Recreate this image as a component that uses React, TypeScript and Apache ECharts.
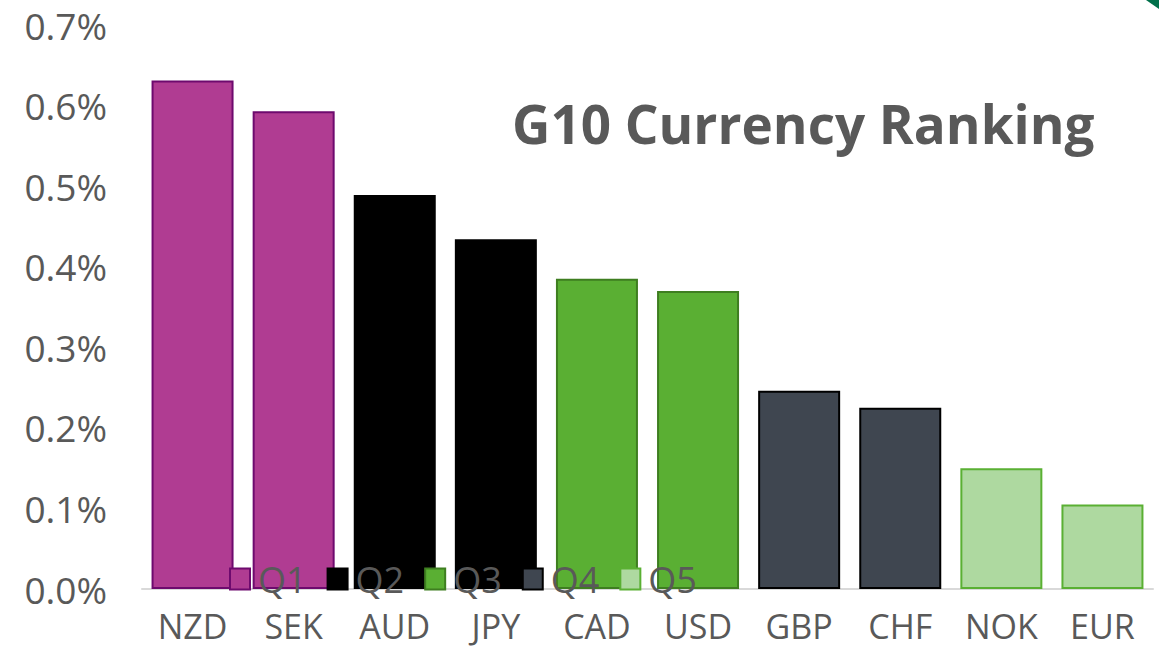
import React, { useEffect, useRef } from "react";
import * as echarts from "echarts";

const categories = ["NZD", "SEK", "AUD", "JPY", "CAD", "USD", "GBP", "CHF", "NOK", "EUR"];
const values = [0.631, 0.593, 0.489, 0.434, 0.385, 0.37, 0.246, 0.225, 0.15, 0.105];
const quintileOf = ["Q1", "Q1", "Q2", "Q2", "Q3", "Q3", "Q4", "Q4", "Q5", "Q5"];
const quintiles = ["Q1", "Q2", "Q3", "Q4", "Q5"];
const fills = ["#B03C92", "#000000", "#5AAF33", "#3F4650", "#AED9A0"];
const borders = ["#6E0A6E", "#000000", "#3E7E20", "#000000", "#5AB033"];
const yTicks = [0, 0.1, 0.2, 0.3, 0.4, 0.5, 0.6, 0.7];

const FONT = "'Open Sans', 'Noto Sans', sans-serif";
const GREY = "#595959";

export default function App() {
  const ref = useRef<HTMLDivElement>(null);
  useEffect(() => {
    if (!ref.current) return;
    const chart = echarts.init(ref.current, undefined, { renderer: "svg" });
    const series = quintiles.map((q, qi) => ({
      name: q,
      type: "bar",
      barWidth: 82,
      barGap: "-100%",
      data: values.map((v, i) => (quintileOf[i] === q ? v : null)),
      itemStyle: { color: fills[qi], borderColor: borders[qi], borderWidth: 2 },
    }));
    chart.setOption({
      animation: false,
      backgroundColor: "#ffffff",
      grid: { left: 142, right: 6, top: 25, bottom: 61, containLabel: false },
      title: {
        text: "G10 Currency Ranking",
        left: 507,
        top: 92,
        textStyle: { fontFamily: FONT, fontSize: 53, fontWeight: "bold", color: GREY },
      },
      legend: {
        data: quintiles,
        left: 224,
        top: 556,
        itemWidth: 20,
        itemHeight: 21,
        itemGap: 20,
        icon: "rect",
        textStyle: { fontFamily: FONT, fontSize: 36, color: GREY, padding: [0, 0, 0, 3] },
      },
      xAxis: {
        type: "category",
        data: categories,
        axisLine: { lineStyle: { color: "#D9D9D9", width: 2 } },
        axisTick: { show: false },
        axisLabel: { fontFamily: FONT, fontSize: 34, color: GREY, margin: 20, lineHeight: 34 },
      },
      yAxis: {
        type: "value",
        min: yTicks[0],
        max: yTicks[yTicks.length - 1],
        interval: 0.1,
        splitLine: { show: false },
        axisLine: { show: false },
        axisTick: { show: false },
        axisLabel: {
          fontFamily: FONT,
          fontSize: 37,
          color: GREY,
          margin: 35,
          formatter: (v: number) => v.toFixed(1) + "%",
        },
      },
      graphic: [
        {
          type: "polygon",
          shape: { points: [[1146, 0], [1159, 0], [1159, 9]] },
          style: { fill: "#00704A" },
        },
      ],
      series,
    });
    return () => chart.dispose();
  }, []);
  return (
    <div
      ref={ref}
      style={{ position: "fixed", left: 0, top: 0, width: 1159, height: 650 }}
    />
  );
}
